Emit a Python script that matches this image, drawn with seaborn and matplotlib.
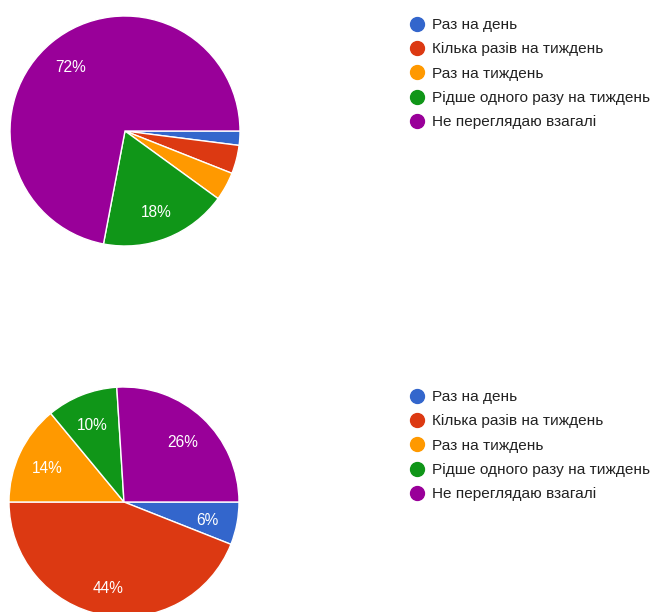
import matplotlib
matplotlib.use("Agg")
import matplotlib.pyplot as plt
from matplotlib.lines import Line2D
from matplotlib.transforms import ScaledTranslation
import seaborn as sns

# Survey answers (Ukrainian), shared by both pies
categories = [
    "Раз на день",
    "Кілька разів на тиждень",
    "Раз на тиждень",
    "Рідше одного разу на тиждень",
    "Не переглядаю взагалі",
]
shares_top = [2, 4, 4, 18, 72]
shares_bottom = [6, 44, 14, 10, 26]

sns.set_theme(style="white")
plt.rcParams["font.family"] = ["Liberation Sans", "DejaVu Sans"]

palette = sns.color_palette(["#3366CC", "#DC3912", "#FF9900", "#109618", "#990099"])

W, H = 651, 612
fig = plt.figure(figsize=(W / 100, H / 100), dpi=100)
fig.patch.set_facecolor("white")


def pie_axes(cx, cy, r):
    # axes box in pixel units -> figure fractions
    return fig.add_axes([(cx - r) / W, (H - cy - r) / H, 2 * r / W, 2 * r / H])


def draw_pie(ax, values):
    def fmt(p):
        return f"{p:.0f}%" if p >= 5 else ""

    _, _, autotexts = ax.pie(
        values,
        colors=palette,
        startangle=0,
        counterclock=False,
        autopct=fmt,
        pctdistance=0.74,
        wedgeprops=dict(edgecolor="white", linewidth=1.0),
        textprops=dict(color="white", fontsize=11.2),
        radius=1.0,
    )
    # nudge percentage labels slightly downward
    shift = ScaledTranslation(0, -2.5 / 100, fig.dpi_scale_trans)
    for t in autotexts:
        t.set_transform(t.get_transform() + shift)
    ax.set_xlim(-1, 1)
    ax.set_ylim(-1, 1)
    ax.set_aspect("equal")
    ax.axis("off")


def draw_legend(x, y_top):
    handles = [
        Line2D([0], [0], marker="o", linestyle="", markersize=10,
               markerfacecolor=c, markeredgecolor=c)
        for c in palette
    ]
    fig.legend(
        handles, categories,
        loc="upper left",
        bbox_to_anchor=(x / W, 1 - y_top / H),
        frameon=False,
        fontsize=11.1,
        labelcolor="#222222",
        handletextpad=0.29,
        labelspacing=0.67,
        borderpad=0,
        borderaxespad=0,
        handlelength=1.4,
    )


ax1 = pie_axes(125, 131, 115)
draw_pie(ax1, shares_top)
draw_legend(406, 18)

ax2 = pie_axes(124, 502, 115)
draw_pie(ax2, shares_bottom)
draw_legend(406, 390)

fig.savefig("out.png", dpi=100, facecolor="white")
